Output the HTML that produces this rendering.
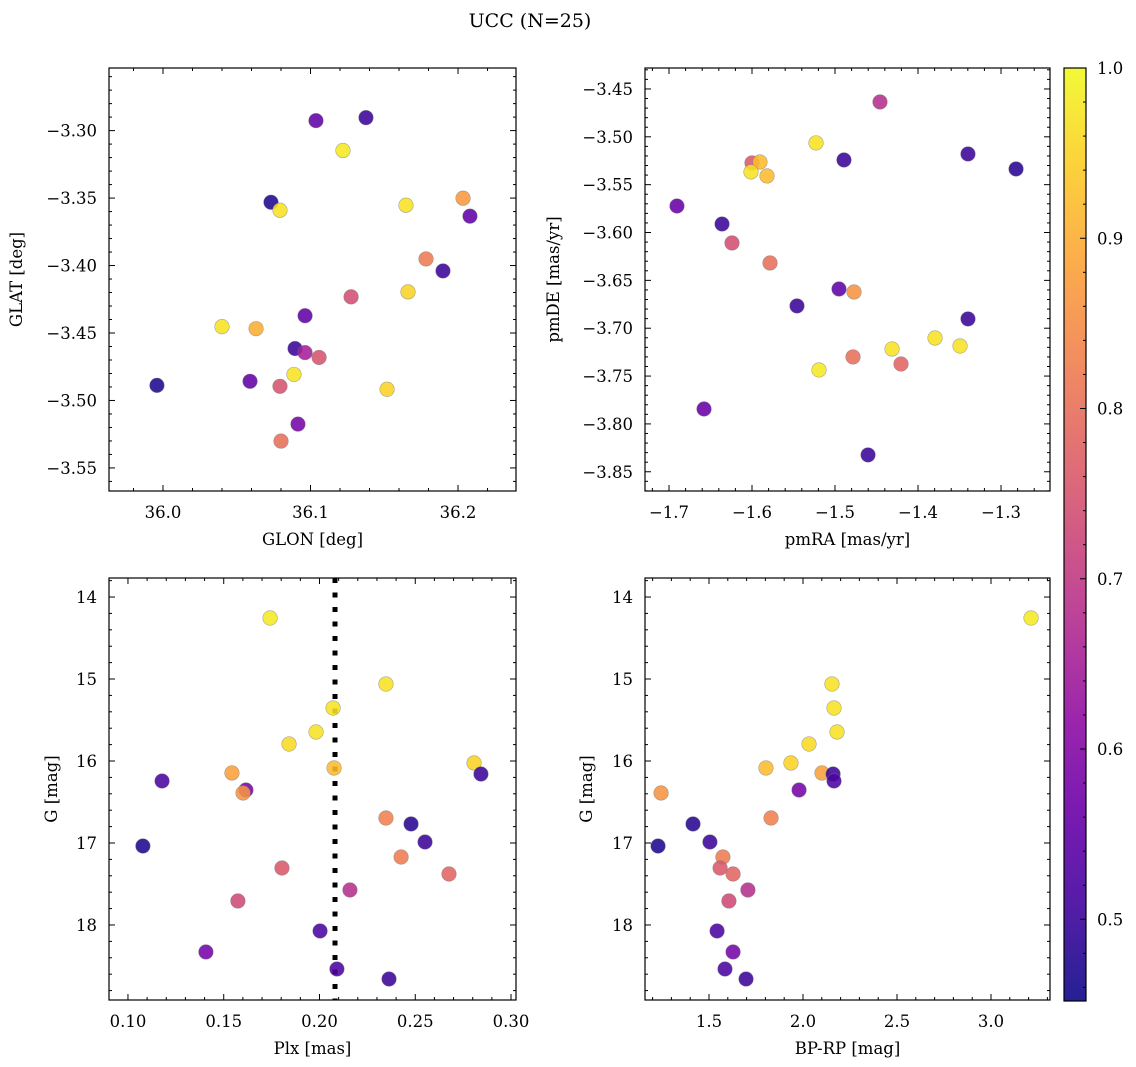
<!DOCTYPE html>
<html><head><meta charset="utf-8">
<style>
html,body{margin:0;padding:0;background:#fff;}
svg{display:block;font-family:"DejaVu Serif","Liberation Serif",serif;}
</style></head>
<body>
<svg id="fig" width="1136" height="1067" viewBox="0 0 1136 1067" xmlns="http://www.w3.org/2000/svg">
<text x="530" y="27" text-anchor="middle" font-size="19" fill="#000">UCC (N=25)</text>
</svg>
<script>
// ---- data ----
const tlGlon = [36.1037,36.1376,36.122,36.0732,36.0793,36.1647,36.2034,36.2081,36.1783,36.1898,36.1661,36.1275,36.0963,36.04,36.0631,36.0895,36.0963,36.1058,36.0888,35.9959,36.059,36.0793,36.1519,36.0915,36.08];
const tlGlat = [-3.2926,-3.2904,-3.3147,-3.3531,-3.359,-3.3553,-3.3501,-3.3634,-3.3951,-3.404,-3.4195,-3.4232,-3.4372,-3.4453,-3.4468,-3.4615,-3.4645,-3.4681,-3.4807,-3.4888,-3.4858,-3.4895,-3.4917,-3.5175,-3.5301];
const tlProb = [0.55,0.5,0.98,0.47,0.97,0.97,0.87,0.55,0.82,0.5,0.95,0.74,0.55,0.97,0.9,0.5,0.65,0.75,0.97,0.47,0.55,0.75,0.95,0.58,0.8];

const trPmra = [-1.4458,-1.5229,-1.4892,-1.3398,-1.2819,-1.6,-1.5904,-1.6012,-1.5819,-1.6904,-1.6361,-1.6241,-1.5783,-1.5458,-1.4952,-1.4771,-1.3398,-1.4313,-1.3795,-1.3494,-1.4783,-1.4205,-1.5193,-1.6578,-1.4602];
const trPmde = [-3.4636,-3.5064,-3.5242,-3.5179,-3.5336,-3.5273,-3.5263,-3.5367,-3.5409,-3.5723,-3.5911,-3.6109,-3.6318,-3.6767,-3.659,-3.6621,-3.6903,-3.7217,-3.7102,-3.7186,-3.73,-3.7374,-3.7436,-3.7844,-3.8324];
const trProb = [0.68,0.97,0.5,0.5,0.48,0.76,0.92,0.97,0.92,0.56,0.5,0.74,0.8,0.5,0.55,0.86,0.5,0.97,0.97,0.97,0.8,0.78,0.98,0.56,0.5];

const gMag = [14.256,15.061,15.354,15.646,15.793,16.024,16.085,16.146,16.159,16.244,16.354,16.39,16.695,16.768,17.037,16.988,17.171,17.305,17.378,17.573,17.707,18.073,18.329,18.537,18.659];
const plx  = [0.1742,0.2347,0.2071,0.1982,0.1841,0.2807,0.2076,0.1543,0.2843,0.1178,0.1616,0.1601,0.2347,0.2478,0.1078,0.2551,0.2426,0.1804,0.2676,0.2159,0.1574,0.2003,0.1407,0.2091,0.2363];
const bprp = [3.213,2.154,2.165,2.181,2.032,1.936,1.803,2.101,2.160,2.165,1.979,1.245,1.830,1.415,1.229,1.505,1.574,1.559,1.628,1.707,1.606,1.543,1.628,1.585,1.697];
const bProb = [0.98,0.97,0.97,0.97,0.96,0.95,0.92,0.88,0.5,0.52,0.58,0.86,0.83,0.48,0.47,0.5,0.82,0.76,0.78,0.68,0.73,0.52,0.58,0.52,0.5];
const plxLine = [0.2081];

const tlXTicks = [36.0,36.1,36.2];
const tlYTicks = [-3.30,-3.35,-3.40,-3.45,-3.50,-3.55];
const trXTicks = [-1.7,-1.6,-1.5,-1.4,-1.3];
const trYTicks = [-3.45,-3.50,-3.55,-3.60,-3.65,-3.70,-3.75,-3.80,-3.85];
const blXTicks = [0.10,0.15,0.20,0.25,0.30];
const gTicks = [14,15,16,17,18];
const brXTicks = [1.5,2.0,2.5,3.0];
const cbTicks = [0.5,0.6,0.7,0.8,0.9,1.0];

const VMIN=0.452, VMAX=1.0;
const NS='http://www.w3.org/2000/svg';
const fig=document.getElementById('fig');

const plasma=[[13,8,135],[65,4,157],[106,0,168],[143,13,164],[177,42,144],[204,71,120],[225,100,98],[242,132,75],[252,166,54],[252,206,37],[240,249,33]];
function cmap(v){
  let t=(v-VMIN)/(VMAX-VMIN); t=Math.max(0,Math.min(1,t));
  const f=t*10, i=Math.min(9,Math.floor(f)), r=f-i;
  const a=plasma[i], b=plasma[i+1];
  return 'rgb('+[0,1,2].map(k=>Math.round(a[k]+(b[k]-a[k])*r)).join(',')+')';
}
function el(tag,attrs,parent){
  const e=document.createElementNS(NS,tag);
  for(const k in attrs) e.setAttribute(k,attrs[k]);
  (parent||fig).appendChild(e); return e;
}
function fmt(v,d){ const s=Math.abs(v).toFixed(d); return (v<0?'\u2212':'')+s; }

function panel(cfg){
  const g=el('g',{});
  
  
  const {x0,x1,y0,y1,xmin,xmax,ymin,ymax,invY}=cfg;
  const sx=v=>x0+(v-xmin)/(xmax-xmin)*(x1-x0);
  const sy=v=>invY? y0+(v-ymin)/(ymax-ymin)*(y1-y0) : y1-(v-ymin)/(ymax-ymin)*(y1-y0);
  // ticks
  const tg=el('g',{stroke:'#000','stroke-width':1},g);
  
  
  const lo=Math.min(xmin,xmax), hi=Math.max(xmin,xmax);
  for(let v=Math.ceil(lo/cfg.xMinor-1e-6)*cfg.xMinor; v<=hi+1e-9; v+=cfg.xMinor){
    const p=sx(v);
    const major=cfg.xTicks.some(t=>Math.abs(t-v)<cfg.xMinor/10);
    const L=major?6:3;
    el('line',{x1:p,x2:p,y1:y1,y2:y1-L},tg); el('line',{x1:p,x2:p,y1:y0,y2:y0+L},tg);
  }
  const ylo=Math.min(ymin,ymax), yhi=Math.max(ymin,ymax);
  for(let v=Math.ceil(ylo/cfg.yMinor-1e-6)*cfg.yMinor; v<=yhi+1e-9; v+=cfg.yMinor){
    const p=sy(v);
    const major=cfg.yTicks.some(t=>Math.abs(t-v)<cfg.yMinor/10);
    const L=major?6:3;
    el('line',{x1:x0,x2:x0+L,y1:p,y2:p},tg); el('line',{x1:x1,x2:x1-L,y1:p,y2:p},tg);
  }
  cfg.xTicks.forEach(v=>{
    const t=el('text',{x:sx(v),y:y1+27,'text-anchor':'middle','font-size':16.5},g);
    
    
    t.textContent=fmt(v,cfg.xDec);
  });
  cfg.yTicks.forEach(v=>{
    const t=el('text',{x:x0-12,y:sy(v)+6,'text-anchor':'end','font-size':16.5},g);
    
    
    t.textContent=fmt(v,cfg.yDec);
  });
  const xl=el('text',{x:(x0+x1)/2,y:y1+54,'text-anchor':'middle','font-size':16.5},g);
  
  
  xl.textContent=cfg.xlabel;
  const yx=cfg.ylabelX, yc=(y0+y1)/2;
  const yl=el('text',{x:yx,y:yc,'text-anchor':'middle','font-size':16.5,transform:'rotate(-90 '+yx+' '+yc+')'},g);
  
  
  yl.textContent=cfg.ylabel;
  // clip
  const cid='clip-'+cfg.name;
  const cp=el('clipPath',{id:cid},g); el('rect',{x:x0,y:y0,width:x1-x0,height:y1-y0},cp);
  const pg=el('g',{'clip-path':'url(#'+cid+')'},g);
  if(cfg.vline){
    cfg.vline.forEach(v=>{
      const l=el('line',{x1:sx(v),x2:sx(v),y1:y0,y2:y1,stroke:'#000','stroke-width':5,'stroke-dasharray':'5 9.5'},pg);
      
      
    });
  }
  cfg.xs.forEach((xv,i)=>{
    const c=el('circle',{cx:sx(xv),cy:sy(cfg.ys[i]),r:7.3,fill:cmap(cfg.c[i]),'fill-opacity':0.88,stroke:'#777','stroke-opacity':0.6,'stroke-width':0.6},pg);
    
    
  });
  const fr=el('rect',{x:x0,y:y0,width:x1-x0,height:y1-y0,fill:'none',stroke:'#000','stroke-width':1.2},g);
  
  
}

panel({name:'glon-glat-panel',x0:109,x1:516,y0:68,y1:491,xmin:35.9634,xmax:36.2393,ymin:-3.5671,ymax:-3.2536,
  xTicks:tlXTicks,yTicks:tlYTicks,xMinor:0.02,yMinor:0.01,xDec:1,yDec:2,xlabel:'GLON [deg]',ylabel:'GLAT [deg]',ylabelX:22,
  xs:tlGlon,ys:tlGlat,c:tlProb});
panel({name:'pm-panel',x0:645,x1:1050,y0:68,y1:491,xmin:-1.7289,xmax:-1.2410,ymin:-3.8701,ymax:-3.4281,
  xTicks:trXTicks,yTicks:trYTicks,xMinor:0.02,yMinor:0.01,xDec:1,yDec:2,xlabel:'pmRA [mas/yr]',ylabel:'pmDE [mas/yr]',ylabelX:559,
  xs:trPmra,ys:trPmde,c:trProb});
panel({name:'plx-g-panel',x0:109,x1:516,y0:578,y1:1000,xmin:0.0901,xmax:0.3026,ymin:13.768,ymax:18.915,invY:true,
  xTicks:blXTicks,yTicks:gTicks,xMinor:0.01,yMinor:0.2,xDec:2,yDec:0,xlabel:'Plx [mas]',ylabel:'G [mag]',ylabelX:57,
  xs:plx,ys:gMag,c:bProb,vline:plxLine});
panel({name:'cmd-panel',x0:645,x1:1050,y0:578,y1:1000,xmin:1.1596,xmax:3.3138,ymin:13.768,ymax:18.915,invY:true,
  xTicks:brXTicks,yTicks:gTicks,xMinor:0.1,yMinor:0.2,xDec:1,yDec:0,xlabel:'BP-RP [mag]',ylabel:'G [mag]',ylabelX:592,
  xs:bprp,ys:gMag,c:bProb});

// colorbar
(function(){
  const x0=1064,x1=1086,y0=68,y1=1001;
  const g=el('g',{});
  
  
  const defs=el('defs',{},g);
  const lg=el('linearGradient',{id:'cbgrad',x1:0,y1:1,x2:0,y2:0},defs);
  for(let i=0;i<=20;i++){
    const v=VMIN+(VMAX-VMIN)*i/20;
    el('stop',{offset:(i/20),'stop-color':cmap(v),'stop-opacity':0.9},lg);
  }
  el('rect',{x:x0,y:y0,width:x1-x0,height:y1-y0,fill:'url(#cbgrad)'},g);
  const sy=v=>y1-(v-VMIN)/(VMAX-VMIN)*(y1-y0);
  for(let k=Math.ceil(VMIN/0.02); k*0.02<=VMAX+1e-9; k++){
    const v=k*0.02, p=sy(v);
    const major=cbTicks.some(t=>Math.abs(t-v)<0.002);
    el('line',{x1:x1,x2:x1-(major?6:3),y1:p,y2:p,stroke:'#000','stroke-width':1},g);
  }
  cbTicks.forEach(v=>{
    const t=el('text',{x:x1+11,y:sy(v)+6,'font-size':16.5},g);
    
    
    t.textContent=v.toFixed(1);
  });
  el('rect',{x:x0,y:y0,width:x1-x0,height:y1-y0,fill:'none',stroke:'#000','stroke-width':1.2},g);
})();
</script>
</body></html>
